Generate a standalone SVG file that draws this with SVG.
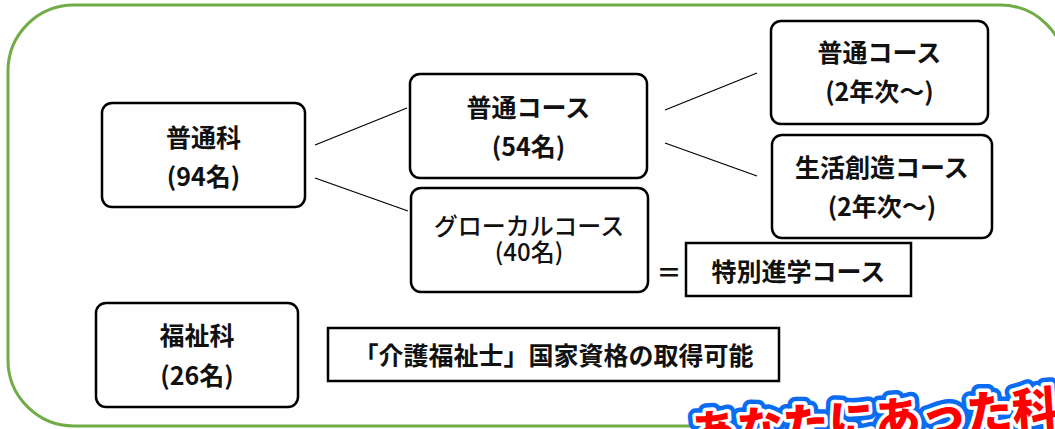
<svg xmlns="http://www.w3.org/2000/svg" width="1055" height="429" viewBox="0 0 1055 429">
<style>
.node{fill:#fff;stroke:#000;stroke-width:2.5}
.t{font-family:"Noto Sans CJK JP","Noto Sans CJK SC",sans-serif;font-size:25px;font-weight:700;fill:#111;text-anchor:middle}
.thin{font-weight:500;font-size:24px}
.conn line{stroke:#000;stroke-width:1.3}
.stk{font-family:"Noto Sans CJK JP",sans-serif;font-size:46px;font-weight:900}
</style>
<rect width="1055" height="429" fill="#fff"/>
<rect x="8" y="5" width="1058" height="421" rx="66" ry="66" fill="none" stroke="#70AD47" stroke-width="3"/>
<g class="conn">
<line x1="315" y1="145" x2="407" y2="108"/>
<line x1="315" y1="178" x2="408" y2="211"/>
<line x1="665" y1="110" x2="757" y2="73"/>
<line x1="665" y1="143" x2="757" y2="176"/>
</g>
<g id="futsuka"><rect class="node" x="102" y="103" width="203" height="104" rx="10"/><text class="t" x="203.5" y="147">普通科</text><text class="t" x="203.5" y="186">(94名)</text></g>
<g id="futsu-course"><rect class="node" x="410" y="74" width="237" height="104" rx="10"/><text class="t" x="528.5" y="117">普通コース</text><text class="t" x="528.5" y="156">(54名)</text></g>
<g id="glocal"><rect class="node" x="411" y="188" width="237" height="104" rx="10"/><text class="t thin" x="529" y="235">グローカルコース</text><text class="t thin" x="529" y="261">(40名)</text></g>
<g id="futsu2"><rect class="node" x="771" y="21" width="217" height="103" rx="10"/><text class="t" x="879.5" y="62">普通コース</text><text class="t" x="879.5" y="101">(2年次～)</text></g>
<g id="seikatsu"><rect class="node" x="772" y="135" width="220" height="103" rx="10"/><text class="t" x="882" y="177">生活創造コース</text><text class="t" x="882" y="216">(2年次～)</text></g>
<g id="eq"><text class="t" x="669" y="282" font-size="28" font-weight="400">＝</text></g>
<g id="tokubetsu"><rect class="node" x="686" y="243" width="225" height="53"/><text class="t" x="798.5" y="281">特別進学コース</text></g>
<g id="fukushika"><rect class="node" x="96" y="303" width="202" height="104" rx="10"/><text class="t" x="197" y="345">福祉科</text><text class="t" x="197" y="385">(26名)</text></g>
<g id="kaigo"><rect class="node" x="328" y="328" width="451" height="53"/><text class="t" x="553.5" y="365">「介護福祉士」国家資格の取得可能</text></g>
<g id="sticker" transform="rotate(-4 860 440)">
<text class="stk" x="692" y="438" fill="#0A6CF0" stroke="#0A6CF0" stroke-width="16" stroke-linejoin="round">あなたにあった科</text>
<text class="stk" x="692" y="438" fill="#FF0000" stroke="#fff" stroke-width="7" stroke-linejoin="round" paint-order="stroke">あなたにあった科</text>
</g>
</svg>
